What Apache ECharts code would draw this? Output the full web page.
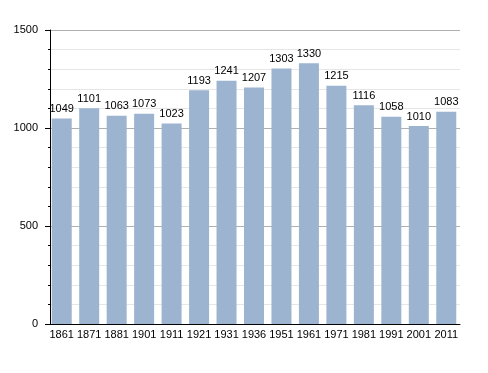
<!DOCTYPE html>
<html><head><meta charset="utf-8">
<script src="https://cdn.jsdelivr.net/npm/echarts@6/dist/echarts.min.js"></script>
<style>html,body{margin:0;padding:0;background:#fff}#c{width:488px;height:373px}</style>
</head><body><div id="c"></div>
<script>
var years = ['1861','1871','1881','1901','1911','1921','1931','1936','1951','1961','1971','1981','1991','2001','2011'];
var population = [1049,1101,1063,1073,1023,1193,1241,1207,1303,1330,1215,1116,1058,1010,1083];
var yTicks = [0,500,1000,1500];

var chart = echarts.init(document.getElementById('c'), null, {renderer:'canvas'});
var font = '"Liberation Sans", Arial, sans-serif';
chart.setOption({
  animation:false,
  grid:{left:48, right:28, top:30, bottom:49, containLabel:false},
  xAxis:{
    type:'category', data:years,
    axisLine:{lineStyle:{color:'#000', width:1}},
    axisTick:{show:false},
    axisLabel:{color:'#000', fontSize:11, fontFamily:font, margin:5, interval:0}
  },
  yAxis:{
    type:'value', min:yTicks[0], max:yTicks[yTicks.length-1], interval:500,
    offset:-2,
    axisLine:{show:true, lineStyle:{color:'#000', width:1}},
    axisTick:{show:true, inside:false, length:5, lineStyle:{color:'#000'}},
    minorTick:{show:true, splitNumber:5, length:2, lineStyle:{color:'#000'}},
    splitLine:{show:true, lineStyle:{color:'#b0b0b0', width:1}},
    minorSplitLine:{show:true, lineStyle:{color:'#e6e6e6', width:1}},
    axisLabel:{color:'#000', fontSize:11, fontFamily:font, margin:12,
      formatter:function(v){return String(v);}}
  },
  series:[{
    type:'bar', data:population, barWidth:20,
    itemStyle:{color:'#9cb4d0'},
    label:{show:true, position:'top', distance:4, color:'#000', fontSize:11, fontFamily:font}
  }]
});
</script></body></html>
